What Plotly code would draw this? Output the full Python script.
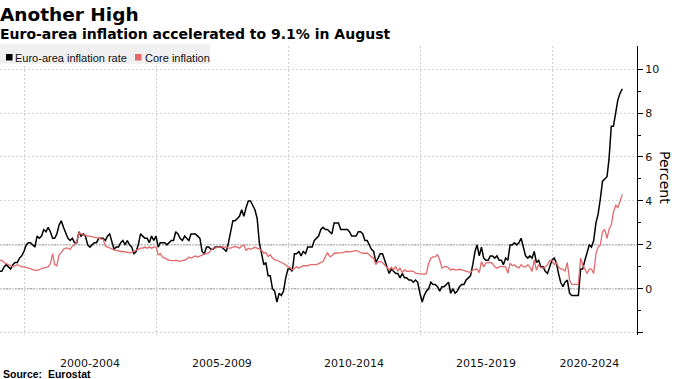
import plotly.graph_objects as go
import pandas as pd

# ---- data (monthly, Jan 1999 - Aug 2022) ----
months = pd.date_range("1999-01-01", "2022-08-01", freq="MS")

headline = [
    0.8, 0.8, 1.0, 1.1, 1.0, 0.9, 1.1, 1.2, 1.2, 1.4, 1.5, 1.7,      # 1999
    2.0, 2.1, 2.1, 2.0, 1.9, 2.4, 2.3, 2.4, 2.7, 2.6, 2.8, 2.6,      # 2000
    2.3, 2.3, 2.5, 2.9, 3.1, 2.8, 2.5, 2.3, 2.2, 2.3, 2.1, 2.1,      # 2001
    2.6, 2.4, 2.5, 2.4, 2.0, 1.9, 2.0, 2.1, 2.1, 2.3, 2.3, 2.3,      # 2002
    2.2, 2.4, 2.5, 2.1, 1.8, 1.9, 1.9, 2.1, 2.2, 2.0, 2.2, 2.0,      # 2003
    1.9, 1.6, 1.7, 2.0, 2.5, 2.4, 2.3, 2.3, 2.1, 2.4, 2.2, 2.4,      # 2004
    1.9, 2.1, 2.1, 2.1, 2.0, 2.1, 2.2, 2.2, 2.6, 2.5, 2.3, 2.2,      # 2005
    2.4, 2.3, 2.2, 2.5, 2.5, 2.5, 2.4, 2.3, 1.7, 1.6, 1.9, 1.9,      # 2006
    1.8, 1.8, 1.9, 1.9, 1.9, 1.9, 1.8, 1.7, 2.1, 2.6, 3.1, 3.1,      # 2007
    3.2, 3.3, 3.6, 3.3, 3.7, 4.0, 4.0, 3.8, 3.6, 3.2, 2.1, 1.6,      # 2008
    1.1, 1.2, 0.6, 0.6, 0.0, -0.1, -0.6, -0.2, -0.3, -0.1, 0.5, 0.9, # 2009
    0.9, 0.8, 1.6, 1.6, 1.7, 1.5, 1.7, 1.6, 1.9, 1.9, 1.9, 2.2,      # 2010
    2.3, 2.4, 2.7, 2.8, 2.7, 2.7, 2.6, 2.5, 3.0, 3.0, 3.0, 2.7,      # 2011
    2.7, 2.7, 2.7, 2.6, 2.4, 2.4, 2.4, 2.6, 2.6, 2.5, 2.2, 2.2,      # 2012
    2.0, 1.8, 1.7, 1.2, 1.4, 1.6, 1.6, 1.3, 1.1, 0.7, 0.9, 0.8,      # 2013
    0.7, 0.7, 0.5, 0.7, 0.5, 0.5, 0.4, 0.4, 0.3, 0.4, 0.3, -0.2,     # 2014
    -0.6, -0.3, -0.1, 0.0, 0.3, 0.2, 0.2, 0.1, -0.1, 0.1, 0.1, 0.2,  # 2015
    0.3, -0.2, 0.0, -0.2, -0.1, 0.1, 0.2, 0.2, 0.4, 0.5, 0.6, 1.1,   # 2016
    1.7, 2.0, 1.5, 1.9, 1.4, 1.3, 1.3, 1.5, 1.5, 1.4, 1.5, 1.3,      # 2017
    1.3, 1.1, 1.4, 1.3, 2.0, 2.0, 2.1, 2.0, 2.1, 2.3, 1.9, 1.5,      # 2018
    1.4, 1.5, 1.4, 1.7, 1.2, 1.3, 1.0, 1.0, 0.8, 0.7, 1.0, 1.3,      # 2019
    1.4, 1.2, 0.7, 0.3, 0.1, 0.3, 0.4, -0.2, -0.3, -0.3, -0.3, -0.3, # 2020
    0.9, 0.9, 1.3, 1.6, 2.0, 1.9, 2.2, 3.0, 3.4, 4.1, 4.9, 5.0,      # 2021
    5.1, 5.9, 7.4, 7.4, 8.1, 8.6, 8.9, 9.1,                          # 2022
]

core = [
    1.3, 1.3, 1.2, 1.15, 1.1, 1.05, 1.0, 1.05, 1.1, 1.05, 1.0, 1.0,      # 1999
    0.98, 0.95, 0.92, 0.88, 0.85, 0.83, 0.88, 0.9, 0.95, 0.98, 1.0, 1.15, # 2000
    1.6, 1.1, 1.05, 1.55, 1.65, 1.8, 1.85, 1.85, 1.8, 1.95, 2.0, 2.15,   # 2001
    2.55, 2.5, 2.45, 2.45, 2.4, 2.4, 2.38, 2.35, 2.35, 2.3, 2.27, 2.25,  # 2002
    1.95, 1.9, 1.85, 1.8, 1.77, 1.75, 1.72, 1.7, 1.7, 1.68, 1.65, 1.65,  # 2003
    1.65, 1.7, 1.75, 1.8, 1.85, 1.85, 1.9, 1.85, 1.9, 1.85, 1.9, 1.9,    # 2004
    1.55, 1.6, 1.45, 1.4, 1.35, 1.3, 1.3, 1.27, 1.3, 1.27, 1.25, 1.3,    # 2005
    1.3, 1.35, 1.45, 1.4, 1.45, 1.5, 1.45, 1.5, 1.55, 1.58, 1.6, 1.65,   # 2006
    1.75, 1.85, 1.85, 1.9, 1.9, 1.9, 1.9, 1.9, 1.85, 1.85, 1.9, 1.92,    # 2007
    1.9, 1.85, 1.95, 2.0, 1.75, 1.85, 1.8, 1.85, 1.89, 1.85, 1.8, 1.75,  # 2008
    1.62, 1.65, 1.47, 1.55, 1.4, 1.32, 1.3, 1.25, 1.2, 1.17, 1.1, 1.0,   # 2009
    0.98, 0.86, 0.95, 1.0, 0.95, 1.0, 1.05, 1.05, 1.05, 1.1, 1.1, 1.1,   # 2010
    1.1, 1.15, 1.2, 1.24, 1.45, 1.65, 1.47, 1.5, 1.62, 1.62, 1.65, 1.65, # 2011
    1.65, 1.68, 1.7, 1.68, 1.7, 1.72, 1.74, 1.7, 1.65, 1.62, 1.62, 1.62, # 2012
    1.55, 1.44, 1.4, 1.1, 1.24, 1.24, 1.2, 1.1, 1.0, 0.86, 0.98, 0.86,   # 2013
    1.02, 0.8, 0.95, 0.74, 0.86, 0.8, 0.8, 0.82, 0.8, 0.72, 0.7, 0.68,   # 2014
    0.68, 0.66, 0.7, 1.17, 1.39, 1.45, 1.47, 1.55, 1.32, 0.95, 1.0, 1.02, # 2015
    0.95, 0.86, 0.9, 0.86, 0.86, 0.89, 0.86, 0.83, 0.83, 0.8, 0.74, 0.86, # 2016
    0.9, 0.9, 0.74, 1.24, 1.0, 1.17, 1.2, 1.2, 1.15, 1.0, 0.94, 1.0,     # 2017
    1.02, 1.0, 1.0, 0.71, 1.17, 1.05, 1.1, 1.0, 0.95, 1.1, 1.0, 1.0,     # 2018
    1.1, 1.0, 0.79, 1.32, 0.85, 1.1, 0.95, 0.95, 1.0, 1.1, 1.3, 1.3,     # 2019
    1.1, 1.2, 1.0, 0.9, 0.9, 0.8, 1.2, 0.4, 0.2, 0.2, 0.2, 0.2,          # 2020
    1.4, 1.1, 0.9, 0.7, 0.9, 0.9, 0.7, 1.6, 1.9, 2.0, 2.6, 2.7,          # 2021
    2.3, 2.7, 2.9, 3.5, 3.8, 3.7, 4.0, 4.3,                              # 2022
]

period_labels = ["2000-2004", "2005-2009", "2010-2014", "2015-2019", "2020-2024"]
period_label_pos = ["2002-07-01", "2007-07-01", "2012-07-01", "2017-07-01", "2021-06-01"]
period_starts = ["2000-01-01", "2005-01-01", "2010-01-01", "2015-01-01", "2020-01-01"]

y_ticks = [-2, 0, 2, 4, 6, 8, 10]
y_ticktext = ["", "0", "2", "4", "6", "8", "10"]

# values are plotted at month end
x_dates = months + pd.offsets.MonthEnd(0)

BLACK = "#000000"
RED = "#e26a6a"

fig = go.Figure()
fig.add_trace(go.Scatter(x=x_dates, y=headline, mode="lines", name="Euro-area inflation rate",
                         line=dict(color=BLACK, width=1.5)))
fig.add_trace(go.Scatter(x=x_dates, y=core, mode="lines", name="Core inflation",
                         line=dict(color=RED, width=1.3)))

W, H = 675, 379
ML, MR, MT, MB = 0, 38, 46, 44
PW, PH = W - ML - MR, H - MT - MB


def py(ypx):
    """pixel y (from top) -> paper y"""
    return 1 + (MT - ypx) / PH


def px(xpx):
    return (xpx - ML) / PW


fig.update_layout(
    width=W, height=H,
    margin=dict(l=ML, r=MR, t=MT, b=MB, pad=0),
    plot_bgcolor="white", paper_bgcolor="white",
    showlegend=False,
    font=dict(family="DejaVu Sans", size=11, color="#000000"),
)

fig.update_xaxes(
    type="date",
    range=["1999-02-03", "2023-03-22"],
    tickmode="array", tickvals=period_label_pos, ticktext=period_labels,
    ticks="outside", ticklen=18, tickcolor="rgba(0,0,0,0)",
    showgrid=False, zeroline=False, showline=False, automargin=False,
    tickfont=dict(family="DejaVu Sans", size=11, color="#111111"),
    minor=dict(tickmode="array", tickvals=period_starts, showgrid=True,
               gridcolor="#cfcfcf", griddash="2px,2px", gridwidth=1, ticks=""),
)

fig.update_yaxes(
    side="right",
    range=[-2.1, 11.05],
    tickmode="array", tickvals=y_ticks, ticktext=y_ticktext,
    ticks="outside", ticklen=5, tickcolor="#000000", tickwidth=1,
    showline=True, linecolor="#000000", linewidth=1,
    showgrid=True, gridcolor="#d3d3d3", griddash="2px,2px", gridwidth=1,
    zeroline=False, automargin=False,
    tickfont=dict(family="DejaVu Sans", size=11, color="#111111"),
    minor=dict(tickmode="array", tickvals=[-1, 1, 3, 5, 7, 9], ticks="outside",
               ticklen=3, tickcolor="#000000", showgrid=False),
)

# darker reference lines at 0 and 2
for yv in (0, 2):
    fig.add_shape(type="line", xref="paper", yref="y", x0=0, x1=1, y0=yv, y1=yv,
                  line=dict(color="#8c8c8c", width=1, dash="2px,1px"), layer="below")

# legend (manual, Bloomberg style)
fig.add_shape(type="rect", xref="paper", yref="paper", x0=px(0), x1=px(210),
              y0=py(64), y1=py(44), fillcolor="#f0f0f0", line=dict(width=0), layer="above")
fig.add_shape(type="rect", xref="paper", yref="paper", x0=px(6), x1=px(12.5),
              y0=py(60.5), y1=py(54), fillcolor=BLACK, line=dict(width=0), layer="above")
fig.add_shape(type="rect", xref="paper", yref="paper", x0=px(135), x1=px(141.5),
              y0=py(60.5), y1=py(54), fillcolor="#e8676a", line=dict(width=0), layer="above")

annotations = [
    dict(text="Euro-area inflation rate", x=px(14), y=py(57.5), xanchor="left", yanchor="middle",
         font=dict(family="Liberation Sans", size=11, color="#111111")),
    dict(text="Core inflation", x=px(144), y=py(57.5), xanchor="left", yanchor="middle",
         font=dict(family="Liberation Sans", size=11, color="#111111")),
    dict(text="<b>Another High</b>", x=px(-1), y=py(14), xanchor="left", yanchor="middle",
         font=dict(family="DejaVu Sans", size=18.5, color="#000000")),
    dict(text="<b>Euro-area inflation accelerated to 9.1% in August</b>", x=px(-1), y=py(34),
         xanchor="left", yanchor="middle",
         font=dict(family="DejaVu Sans", size=14, color="#000000")),
    dict(text="<b>Source:  Eurostat</b>", x=px(2), y=py(373.5), xanchor="left", yanchor="middle",
         font=dict(family="Liberation Sans", size=10.5, color="#000000")),
    dict(text="Percent", x=px(665), y=py(177), xanchor="center", yanchor="middle", textangle=90,
         font=dict(family="DejaVu Sans", size=14, color="#000000")),
]
for a in annotations:
    a.update(xref="paper", yref="paper", showarrow=False, borderpad=0)
    fig.add_annotation(**a)

# remove the browser's default 8px body margin so the figure sits at the window origin
fig.write_html(
    "out.html",
    config={"displayModeBar": False},
    post_script="document.body.style.margin='0';document.body.style.overflow='hidden';",
)
